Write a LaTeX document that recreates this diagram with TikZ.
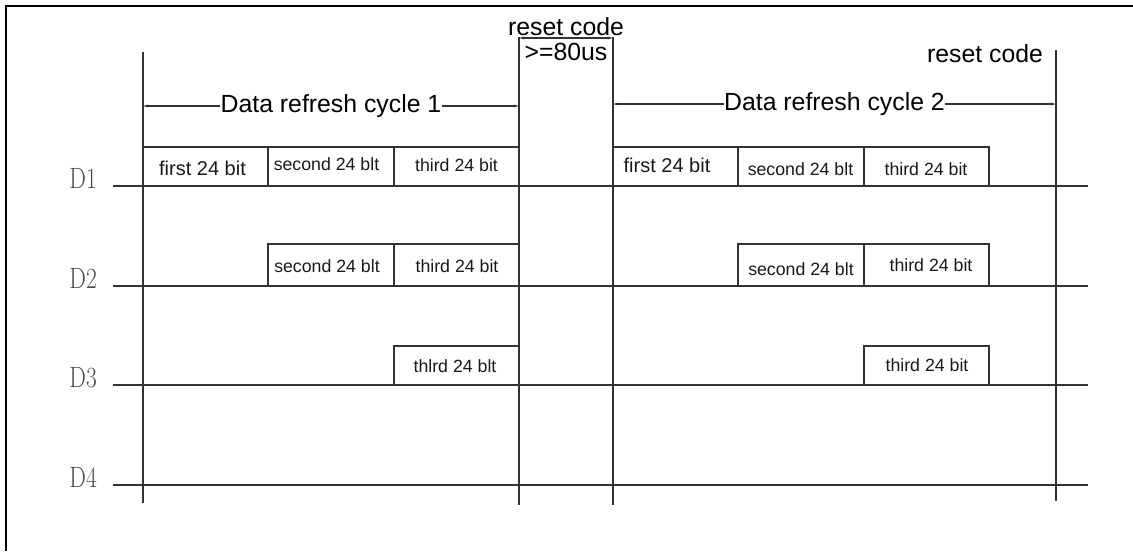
\documentclass[tikz,border=0pt]{standalone}
\usepackage{fontspec}
\newfontfamily\arialfont{Liberation Sans}
\usetikzlibrary{arrows.meta}

\tikzset{
	wire/.style={line width=0.8pt,black!80},
	bitbox/.style={line width=0.8pt,black!80},
	bittext/.style={font=\arialfont\fontsize{13.3}{14}\selectfont,text=black!90,inner sep=0pt,anchor=base},
	firsttext/.style={bittext,font=\arialfont\fontsize{15}{16}\selectfont},
	bigtext/.style={font=\arialfont\fontsize{18.6}{20}\selectfont,inner sep=0pt,anchor=base},
	dimtip/.style={line width=0.8pt,black!80,-{Stealth[length=4pt,width=2pt]}},
	dimline/.style={line width=0.8pt,black!80,{Stealth[length=4pt,width=2pt]}-{Stealth[length=4pt,width=2pt]}},
	chlabel/.style={font=\fontsize{22}{24}\selectfont,text=black!70,inner sep=0pt,anchor=base east,xscale=0.8}
}

\begin{document}
\begin{tikzpicture}[x=0.75pt,y=-0.75pt]
		\useasboundingbox (0,0) rectangle (1133,551);
		\draw[line width=2pt] (6,551) -- (6,6) -- (1133,6);
		% time marks
		\coordinate (m1) at (143,0);
		\coordinate (m2) at (519,0);
		\coordinate (m3) at (613,0);
		\coordinate (m4) at (1056,0);
		\draw[wire] (143,52) -- (143,503);
		\draw[wire] (519,37) -- (519,505);
		\draw[wire] (613,37) -- (613,505);
		\draw[wire] (1056,50) -- (1056,501);
		% channels
		\foreach \y/\n in {186/1,286/2,385/3,485/4}{
			\draw[wire] (113,\y) -- (1088,\y);
			\node[chlabel] (d\n) at (97,\y+2) {D\n};
		}
		% bit frames, cycle 1 and cycle 2
		\foreach \dx in {0,470}{
			\draw[bitbox] (143+\dx,186) rectangle (268+\dx,147);
			\draw[bitbox] (268+\dx,186) rectangle (394+\dx,147);
			\draw[bitbox] (394+\dx,186) rectangle (519+\dx,147);
			\draw[bitbox] (268+\dx,286) rectangle (394+\dx,244);
			\draw[bitbox] (394+\dx,286) rectangle (519+\dx,244);
			\draw[bitbox] (394+\dx,385) rectangle (519+\dx,346);
		}
		% cycle 1 texts
		\node[firsttext] (a11) at (202.5,175) {first 24 bit};
		\node[bittext] (a12) at (326.5,170) {second 24 blt};
		\node[bittext] (a13) at (456.5,171) {third 24 bit};
		\node[bittext] (a22) at (327,272) {second 24 blt};
		\node[bittext] (a23) at (457,272) {third 24 bit};
		\node[bittext] (a33) at (455,372) {thlrd 24 blt};
		% cycle 2 texts
		\node[firsttext] (b11) at (667,172) {first 24 bit};
		\node[bittext] (b12) at (800.5,175) {second 24 blt};
		\node[bittext] (b13) at (926,175) {third 24 bit};
		\node[bittext] (b22) at (801,275) {second 24 blt};
		\node[bittext] (b23) at (931,271) {third 24 bit};
		\node[bittext] (b33) at (927,371) {third 24 bit};
		% refresh cycles
		\node[bigtext] (cyc1) at (331,112) {Data refresh cycle 1};
		\draw[dimtip] (cyc1.west |- 0,106) -- (m1 |- 0,106);
		\draw[dimtip] (cyc1.east |- 0,106) -- (m2 |- 0,106);
		\node[bigtext] (cyc2) at (834.5,110) {Data refresh cycle 2};
		\draw[dimtip] (cyc2.west |- 0,104) -- (m3 |- 0,104);
		\draw[dimtip] (cyc2.east |- 0,104) -- (m4 |- 0,104);
		% reset codes
		\node[bigtext] (rst1) at (566,35) {reset code};
		\node[bigtext] (rst1t) at (566,60) {>=80us};
		\draw[dimline] (m2 |- 0,38) -- (m3 |- 0,38);
		\node[bigtext] (rst2) at (985,62) {reset code};
\end{tikzpicture}
\end{document}
